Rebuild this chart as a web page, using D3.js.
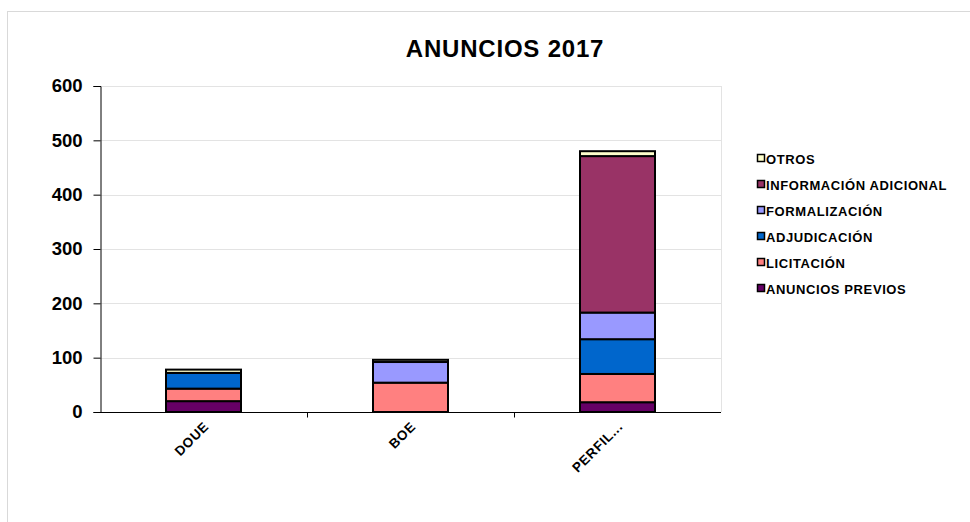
<!DOCTYPE html>
<html>
<head>
<meta charset="utf-8">
<script src="https://cdn.jsdelivr.net/npm/d3@7"></script>
<style>
  html, body { margin: 0; padding: 0; background: #fff; }
  svg { display: block; font-family: "Liberation Sans", Arial, sans-serif; }
</style>
</head>
<body>
<svg id="chart" width="970" height="522"></svg>
<script>
// Announcement counts per publication channel, 2017
const categories = ["DOUE", "BOE", "PERFIL..."];
const seriesNames = ["ANUNCIOS PREVIOS", "LICITACIÓN", "ADJUDICACIÓN", "FORMALIZACIÓN", "INFORMACIÓN ADICIONAL", "OTROS"];
const anunciosPrevios      = [20, 0, 18];
const licitacion           = [23, 54, 52];
const adjudicacion         = [29, 0, 64];
const formalizacion        = [0, 38, 49];
const informacionAdicional = [0, 0, 288];
const otros                = [6, 4, 9];
const yTicks = [0, 100, 200, 300, 400, 500, 600];
const seriesColors = ["#660066", "#FF8080", "#0066CC", "#9999FF", "#993366", "#FFFFCC"];

const seriesValues = [anunciosPrevios, licitacion, adjudicacion, formalizacion, informacionAdicional, otros];
const rows = categories.map((c, i) => {
  const r = { cat: c };
  seriesNames.forEach((s, k) => { r[s] = seriesValues[k][i]; });
  return r;
});

const svg = d3.select("#chart");

// outer chart frame
svg.append("rect")
  .attr("x", 7.5).attr("y", 11.5).attr("width", 975).attr("height", 530)
  .attr("fill", "#fff").attr("stroke", "#d9d9d9").attr("stroke-width", 1);

const plot = { left: 100, right: 721, top: 86, bottom: 412 };

const x = d3.scaleBand().domain(categories).range([plot.left, plot.right]).paddingInner(0).paddingOuter(0);
const y = d3.scaleLinear().domain([0, 600]).range([plot.bottom, plot.top]);

// title
svg.append("text")
  .attr("x", 505).attr("y", 57)
  .attr("text-anchor", "middle")
  .attr("font-weight", "bold").attr("font-size", 24)
  .attr("letter-spacing", 0.8)
  .text("ANUNCIOS 2017");

// gridlines
svg.append("g")
  .selectAll("line")
  .data(yTicks.filter(t => t > 0))
  .join("line")
  .attr("x1", plot.left).attr("x2", plot.right)
  .attr("y1", d => Math.round(y(d)) + 0.5).attr("y2", d => Math.round(y(d)) + 0.5)
  .attr("stroke", "#e3e3e3").attr("stroke-width", 1);

// right edge of the plot area
svg.append("line")
  .attr("x1", plot.right + 0.5).attr("x2", plot.right + 0.5)
  .attr("y1", plot.top).attr("y2", plot.bottom)
  .attr("stroke", "#e3e3e3");

// stacked bars
const stack = d3.stack().keys(seriesNames);
const layers = stack(rows);
const barWidth = 75;

svg.append("g")
  .selectAll("g")
  .data(layers)
  .join("g")
  .attr("fill", (d, i) => seriesColors[i])
  .selectAll("rect")
  .data(d => d.filter(p => p[1] - p[0] > 0))
  .join("rect")
  .attr("x", d => x(d.data.cat) + x.bandwidth() / 2 - barWidth / 2)
  .attr("y", d => y(d[1]))
  .attr("width", barWidth)
  .attr("height", d => y(d[0]) - y(d[1]))
  .attr("stroke", "#000").attr("stroke-width", 2);

// y axis
const yAxis = svg.append("g")
  .attr("transform", `translate(${plot.left + 0.5},0)`)
  .call(d3.axisLeft(y).tickValues(yTicks).tickSize(7).tickPadding(11));
yAxis.select(".domain").attr("stroke", "#000");
yAxis.selectAll(".tick line").attr("stroke", "#000");
yAxis.selectAll("text")
  .attr("font-size", 18.5).attr("font-weight", "bold").attr("fill", "#000")
  .attr("font-family", "Liberation Sans, Arial, sans-serif");

// x axis with ticks at category boundaries
const xAxisG = svg.append("g").attr("transform", `translate(0,${plot.bottom + 0.5})`);
xAxisG.append("line")
  .attr("x1", plot.left).attr("x2", plot.right)
  .attr("stroke", "#000");
xAxisG.selectAll("line.tk")
  .data(categories.slice(1))
  .join("line")
  .attr("class", "tk")
  .attr("x1", d => Math.round(x(d)) + 0.5).attr("x2", d => Math.round(x(d)) + 0.5)
  .attr("y1", 0).attr("y2", 5)
  .attr("stroke", "#000");
xAxisG.selectAll("text")
  .data(categories)
  .join("text")
  .attr("transform", d => `translate(${x(d) + x.bandwidth() / 2 + 6},${15}) rotate(-45)`)
  .attr("text-anchor", "end")
  .attr("font-size", 13.5).attr("font-weight", "bold")
  .attr("letter-spacing", 0.6)
  .text(d => d);

// legend, top entry is the last series
const legend = svg.append("g").attr("transform", "translate(757,159)");
const legendOrder = seriesNames.map((s, i) => ({ s, c: seriesColors[i] })).reverse();
const li = legend.selectAll("g")
  .data(legendOrder)
  .join("g")
  .attr("transform", (d, i) => `translate(0,${i * 26})`);
li.append("rect")
  .attr("x", 0.5).attr("y", -4.5).attr("width", 7).attr("height", 7)
  .attr("fill", d => d.c).attr("stroke", "#000").attr("stroke-width", 1.5);
li.append("text")
  .attr("x", 9).attr("y", 4.5)
  .attr("font-size", 13).attr("font-weight", "bold")
  .attr("letter-spacing", 0.6)
  .text(d => d.s);
</script>
</body>
</html>
